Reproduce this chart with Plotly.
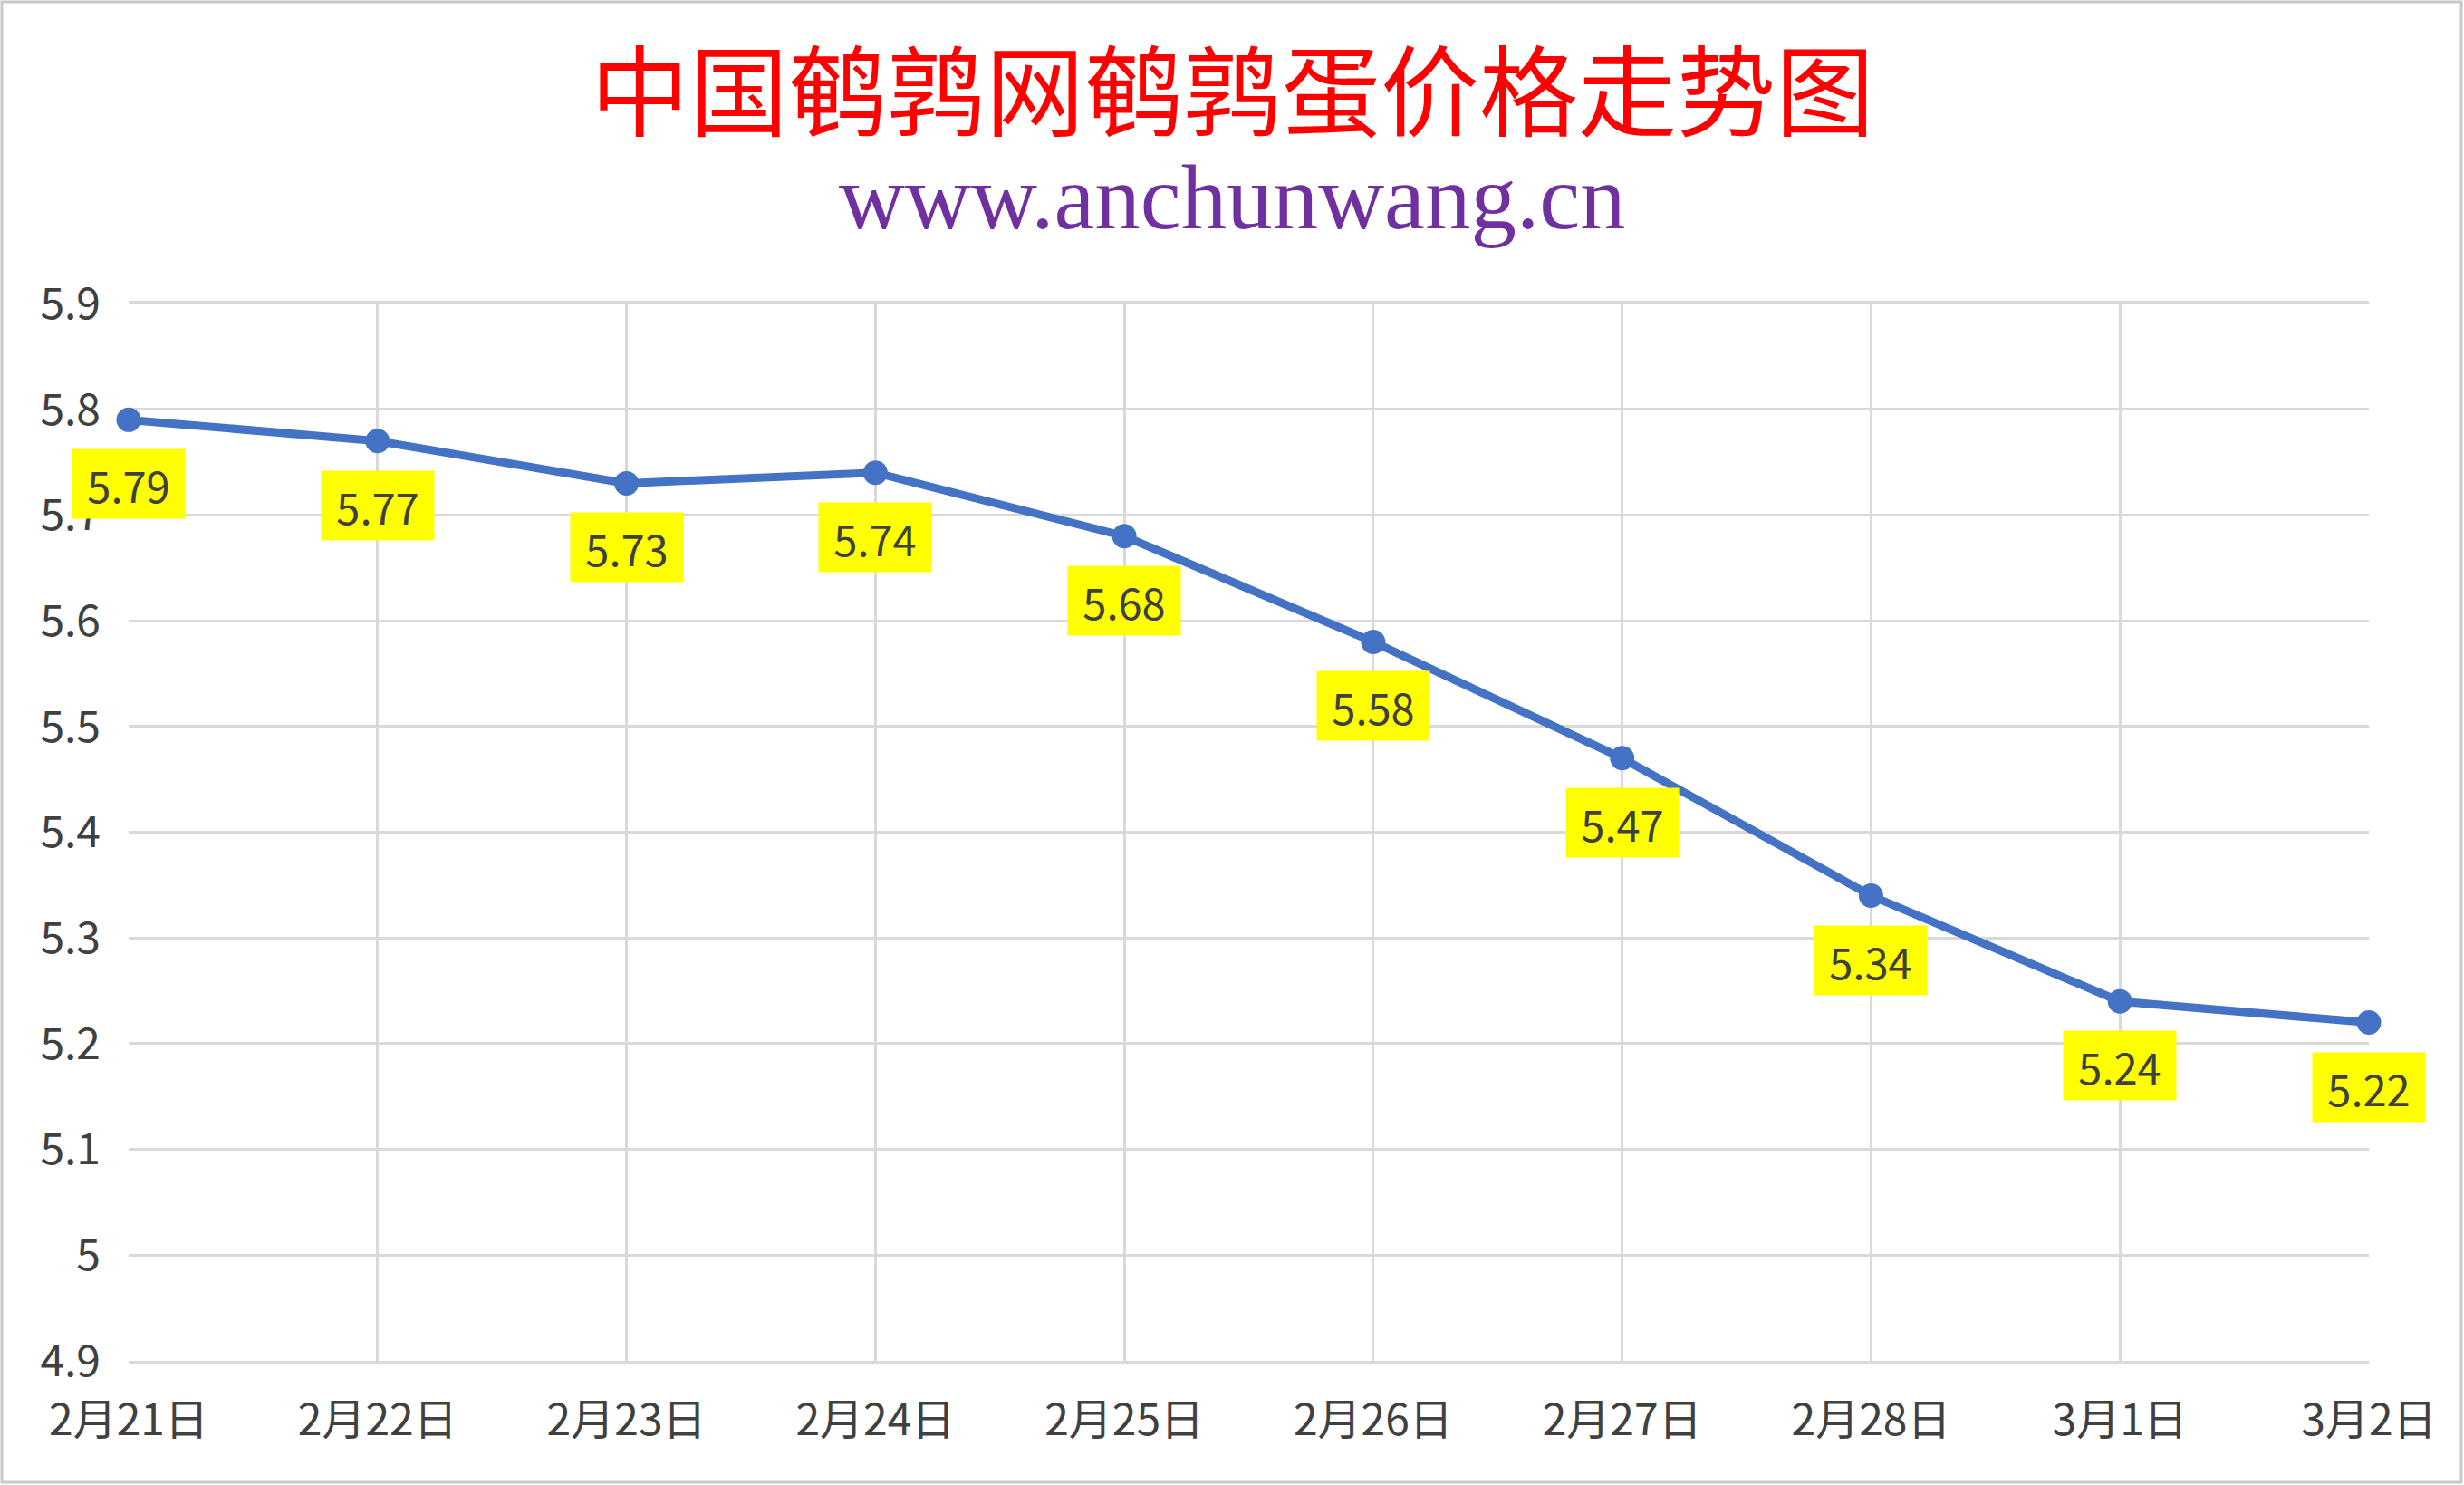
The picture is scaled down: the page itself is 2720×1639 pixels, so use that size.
import plotly.graph_objects as go

# data
dates = ["2月21日", "2月22日", "2月23日", "2月24日", "2月25日",
         "2月26日", "2月27日", "2月28日", "3月1日", "3月2日"]
prices = [5.79, 5.77, 5.73, 5.74, 5.68, 5.58, 5.47, 5.34, 5.24, 5.22]
y_ticks = [4.9, 5.0, 5.1, 5.2, 5.3, 5.4, 5.5, 5.6, 5.7, 5.8, 5.9]
y_tick_labels = ["4.9", "5", "5.1", "5.2", "5.3", "5.4", "5.5", "5.6", "5.7", "5.8", "5.9"]

W, H = 2720, 1639
ML, MR, MT, MB = 142, 105, 335, 137
plot_h = H - MT - MB
plot_w = W - ML - MR

tick_font = dict(family="Noto Sans CJK SC", size=48, color="#404040")

fig = go.Figure(
    go.Scatter(
        x=dates,
        y=prices,
        mode="lines+markers",
        line=dict(color="#4472C4", width=9),
        marker=dict(color="#4472C4", size=27),
        cliponaxis=False,
        hoverinfo="x+y",
    )
)

# yellow value labels under each point
for d, p in zip(dates, prices):
    fig.add_annotation(
        x=d, y=p, text=f"{p:.2f}", showarrow=False,
        yshift=-71, yanchor="middle", xanchor="center",
        width=110, height=62, borderpad=7,
        bgcolor="#FFFF00",
        font=dict(family="Noto Sans CJK SC", size=47, color="#404040"),
    )

# title + site url
cx = 0.5 - (ML - MR) / 2 / plot_w
fig.add_annotation(
    text="中国鹌鹑网鹌鹑蛋价格走势图", xref="paper", yref="paper",
    x=cx, y=(H - MB - 95) / plot_h,
    showarrow=False, xanchor="center", yanchor="middle",
    font=dict(family="Noto Sans CJK SC", size=109, color="#FF0000"),
)
fig.add_annotation(
    text="www.anchunwang.cn", xref="paper", yref="paper",
    x=cx, y=(H - MB - 218) / plot_h,
    showarrow=False, xanchor="center", yanchor="middle",
    font=dict(family="Liberation Serif", size=101, color="#7030A0"),
)

# thin grey frame round the whole chart
fig.add_shape(
    type="rect", xref="paper", yref="paper",
    x0=-(ML - 2) / plot_w, x1=1 + (MR - 3) / plot_w,
    y0=-(MB - 3) / plot_h, y1=1 + (MT - 2) / plot_h,
    line=dict(color="#C8C8C8", width=3), layer="below",
)

fig.update_layout(
    width=W, height=H,
    margin=dict(l=ML, r=MR, t=MT, b=MB),
    plot_bgcolor="white", paper_bgcolor="white",
    showlegend=False,
)
fig.update_xaxes(
    type="category", range=[0, len(dates) - 1],
    showgrid=True, gridcolor="#D9D9D9", gridwidth=2.5,
    showline=True, linecolor="#D9D9D9", linewidth=2.5, mirror=True,
    ticks="", tickfont=tick_font, ticklabelstandoff=22,
)
fig.update_yaxes(
    range=[4.9, 5.9], tickvals=y_ticks, ticktext=y_tick_labels,
    showgrid=True, gridcolor="#D9D9D9", gridwidth=2.5, zeroline=False,
    ticks="", tickfont=tick_font, ticklabelstandoff=30,
)

# drop the page's default body margin so the chart sits at the top-left
fig.write_html(
    "out.html",
    config={"displayModeBar": False},
    post_script="document.body.style.margin='0px';",
)
